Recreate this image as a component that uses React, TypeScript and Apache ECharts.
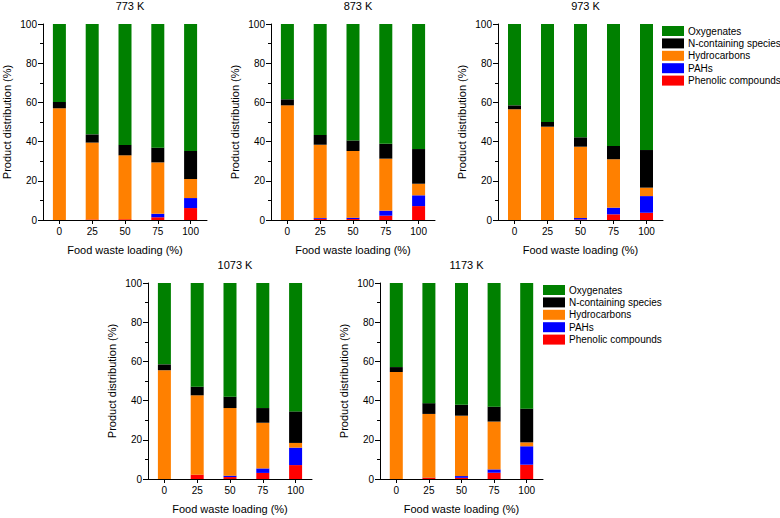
import React, { useEffect, useRef } from "react";
import * as echarts from "echarts";

const categories = ["0", "25", "50", "75", "100"];
const seriesNames = ["Phenolic compounds", "PAHs", "Hydrocarbons", "N-containing species", "Oxygenates"];
const legendOrder = ["Oxygenates", "N-containing species", "Hydrocarbons", "PAHs", "Phenolic compounds"];
const colors = ["#FF0000", "#0000FF", "#FF8000", "#000000", "#008000"];
const panelTitles = ["773 K", "873 K", "973 K", "1073 K", "1173 K"];

// segment values per panel: [phenolic, PAHs, hydrocarbons, N-containing, oxygenates] per loading
const phenolic773 = [0, 0.3, 0.4, 1.4, 6.1];
const pahs773 = [0, 0, 0, 1.8, 5.1];
const hydro773 = [57.0, 39.2, 32.6, 26.2, 9.7];
const nitro773 = [3.2, 4.2, 5.3, 7.5, 14.3];
const oxy773 = [39.8, 56.3, 61.7, 63.1, 64.8];

const phenolic873 = [0, 0.6, 0.5, 2.2, 7.1];
const pahs873 = [0, 0.4, 0.7, 2.6, 5.5];
const hydro873 = [58.5, 37.4, 34.0, 26.5, 5.9];
const nitro873 = [3.1, 5.0, 5.4, 7.6, 17.7];
const oxy873 = [38.4, 56.6, 59.4, 61.1, 63.8];

const phenolic973 = [0, 0, 0.3, 2.9, 3.7];
const pahs973 = [0, 0, 0.7, 3.4, 8.5];
const hydro973 = [56.5, 47.6, 36.4, 24.7, 4.3];
const nitro973 = [2.0, 2.4, 4.8, 6.8, 19.2];
const oxy973 = [41.5, 50.0, 57.8, 62.2, 64.3];

const phenolic1073 = [0, 2.2, 1.0, 3.1, 7.1];
const pahs1073 = [0, 0, 0.7, 2.3, 8.9];
const hydro1073 = [55.5, 40.5, 34.5, 23.3, 2.4];
const nitro1073 = [3.0, 4.4, 5.8, 7.5, 16.1];
const oxy1073 = [41.5, 52.9, 58.0, 63.8, 65.5];

const phenolic1173 = [0, 0.5, 0.6, 3.2, 7.3];
const pahs1173 = [0, 0.2, 0.9, 1.7, 9.4];
const hydro1173 = [54.6, 32.5, 30.8, 24.4, 2.0];
const nitro1173 = [2.5, 5.5, 5.6, 7.6, 17.2];
const oxy1173 = [42.9, 61.3, 62.1, 63.1, 64.1];

const panels = [
  [phenolic773, pahs773, hydro773, nitro773, oxy773],
  [phenolic873, pahs873, hydro873, nitro873, oxy873],
  [phenolic973, pahs973, hydro973, nitro973, oxy973],
  [phenolic1073, pahs1073, hydro1073, nitro1073, oxy1073],
  [phenolic1173, pahs1173, hydro1173, nitro1173, oxy1173],
];

const yMin = 0;
const yMax = 100;
const yInterval = 20;

const FONT = "'Liberation Sans', Arial, sans-serif";

const grids = [
  { left: 43, top: 24, width: 164, height: 196 },
  { left: 271, top: 24, width: 164, height: 196 },
  { left: 498, top: 24, width: 165, height: 196 },
  { left: 148, top: 283, width: 164, height: 196 },
  { left: 380, top: 283, width: 163, height: 196 },
];

export default function App() {
  const ref = useRef<HTMLDivElement>(null);
  useEffect(() => {
    if (!ref.current) return;
    const chart = echarts.init(ref.current, undefined, { renderer: "svg" });
    const axisLine = { show: true, lineStyle: { color: "#000", width: 1 } };
    const option: any = {
      animation: false,
      backgroundColor: "#fff",
      textStyle: { fontFamily: FONT },
      title: grids.map((g, i) => ({
        text: panelTitles[i],
        left: g.left + g.width / 2 + 5,
        top: g.top - 24,
        padding: 0,
        textAlign: "center",
        textStyle: { fontSize: 11, fontWeight: "normal", color: "#000", fontFamily: FONT },
      })),
      legend: [
        { left: 662, top: 26 },
        { left: 543, top: 285 },
      ].map((p) => ({
        ...p,
        orient: "vertical",
        data: legendOrder,
        icon: "rect",
        itemWidth: 22,
        itemHeight: 10,
        itemGap: 2.4,
        padding: 0,
        selectedMode: false,
        textStyle: { fontSize: 10, color: "#000", fontFamily: FONT, lineHeight: 10, padding: [0, 0, 0, -1] },
      })),
      grid: grids.map((g) => ({ ...g, containLabel: false })),
      xAxis: grids.map((_, i) => ({
        type: "category",
        gridIndex: i,
        data: categories,
        boundaryGap: true,
        name: "Food waste loading (%)",
        nameLocation: "middle",
        nameGap: 24,
        nameTextStyle: { fontSize: 11, color: "#000", fontFamily: FONT },
        axisLine,
        axisTick: { show: true, alignWithLabel: true, length: 4, inside: false, lineStyle: { color: "#000" } },
        axisLabel: { fontSize: 10, color: "#000", margin: 6, fontFamily: FONT },
        splitLine: { show: false },
      })),
      yAxis: grids.map((_, i) => ({
        type: "value",
        gridIndex: i,
        min: yMin,
        max: yMax,
        interval: yInterval,
        name: "Product distribution (%)",
        nameLocation: "middle",
        nameGap: 31,
        nameRotate: 90,
        nameTextStyle: { fontSize: 11, color: "#000", fontFamily: FONT },
        axisLine,
        axisTick: { show: true, length: 5, inside: false, lineStyle: { color: "#000" } },
        minorTick: { show: true, splitNumber: 2, length: 3, lineStyle: { color: "#000" } },
        axisLabel: { fontSize: 10, color: "#000", margin: 6, fontFamily: FONT },
        splitLine: { show: false },
      })),
      series: panels.flatMap((panel, pi) =>
        panel.map((vals, si) => ({
          type: "bar",
          name: seriesNames[si],
          xAxisIndex: pi,
          yAxisIndex: pi,
          stack: "p" + pi,
          barWidth: 13,
          data: vals,
          itemStyle: { color: colors[si] },
          emphasis: { disabled: true },
        }))
      ),
    };
    chart.setOption(option);
    return () => chart.dispose();
  }, []);
  return <div ref={ref} style={{ width: 780, height: 518, position: "absolute", left: 0, top: 0 }} />;
}
